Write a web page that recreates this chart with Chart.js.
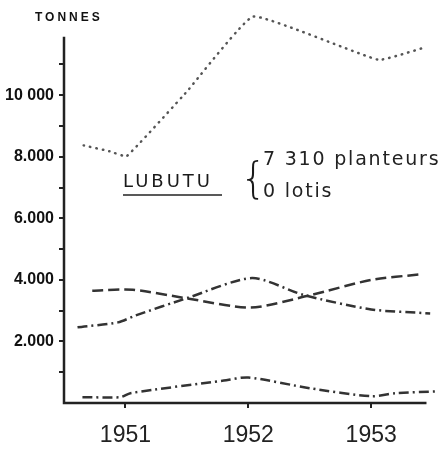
<!DOCTYPE html>
<html>
<head>
<meta charset="utf-8">
<script src="https://cdn.jsdelivr.net/npm/chart.js@4.4.1/dist/chart.umd.min.js"></script>
<style>
  body { margin: 0; background: #fff; }
  canvas { display: block; }
</style>
</head>
<body>
<canvas id="chart" width="448" height="451"></canvas>
<script>
// Lubutu production curves (tonnes), years
const yearTicks = [1951, 1952, 1953];
const yearLabels = ['1951', '1952', '1953'];

const tonneTicks = [1000, 2000, 3000, 4000, 5000, 6000, 7000, 8000, 9000, 10000, 11000];
const tonneLabels = ['', '2.000', '', '4.000', '', '6.000', '', '8.000', '', '10 000', ''];

// dotted curve (top)
const dottedYears = [1950.66, 1950.87, 1951.01, 1951.5, 1952.04, 1953.06, 1953.45];
const dottedTonnes = [8370, 8180, 8020, 10120, 12560, 11150, 11570];

// long dashes
const dashedYears = [1950.73, 1951.06, 1951.5, 1952.02, 1952.5, 1953.0, 1953.4];
const dashedTonnes = [3650, 3680, 3400, 3100, 3500, 4000, 4180];

// dash-dot, middle
const dashDotYears = [1950.61, 1950.94, 1951.08, 1951.51, 1952.03, 1952.45, 1953.0, 1953.48];
const dashDotTonnes = [2460, 2620, 2840, 3420, 4060, 3510, 3040, 2910];

// dash-dot, bottom
const lowYears = [1950.65, 1950.96, 1951.04, 1951.8, 1952.0, 1952.5, 1953.0, 1953.2, 1953.55];
const lowTonnes = [190, 190, 320, 730, 830, 480, 220, 320, 380];

function toPoints(xs, ys) {
    return xs.map((x, i) => ({ x: x, y: ys[i] }));
}

const ink = '#222';

// Axes that stop short of the plot edges, plus the hand-written notes
const drawingPlugin = {
    id: 'drawing',
    afterDraw(chart) {
        const ctx = chart.ctx;
        const x = chart.scales.x;
        const y = chart.scales.y;
        const left = chart.chartArea.left;
        const bottom = y.getPixelForValue(0);

        ctx.save();
        ctx.strokeStyle = ink;
        ctx.lineWidth = 2.5;
        ctx.beginPath();
        ctx.moveTo(left, y.getPixelForValue(11900));
        ctx.lineTo(left, bottom);
        ctx.lineTo(x.getPixelForValue(1953.45), bottom);
        ctx.stroke();

        ctx.fillStyle = '#111';
        ctx.textBaseline = 'alphabetic';
        ctx.font = 'bold 12px "Liberation Sans"';
        ctx.letterSpacing = '3px';
        ctx.fillText('TONNES', 35, 21);

        ctx.fillStyle = '#1a1a1a';
        ctx.font = '18px "DejaVu Sans"';
        ctx.letterSpacing = '3px';
        ctx.fillText('LUBUTU', 123, 187);
        ctx.lineWidth = 1.5;
        ctx.beginPath();
        ctx.moveTo(123, 195);
        ctx.lineTo(222, 195);
        ctx.stroke();

        ctx.letterSpacing = '0px';
        ctx.font = '200 42px "DejaVu Sans"';
        ctx.fillText('{', 240, 193);

        ctx.fillStyle = '#222';
        ctx.font = '19px "DejaVu Sans"';
        ctx.letterSpacing = '1.8px';
        ctx.fillText('7 310 planteurs', 263, 165);
        ctx.fillText('0 lotis', 263, 197);
        ctx.restore();
    }
};

const ctx = document.getElementById('chart').getContext('2d');
new Chart(ctx, {
    type: 'line',
    data: {
        datasets: [
            {
                label: 'pointillé',
                data: toPoints(dottedYears, dottedTonnes),
                borderColor: '#555',
                borderWidth: 2.5,
                borderDash: [0.5, 6],
                borderCapStyle: 'round',
                tension: 0.1
            },
            {
                label: 'tirets',
                data: toPoints(dashedYears, dashedTonnes),
                borderColor: '#333',
                borderWidth: 2.5,
                borderDash: [11, 5]
            },
            {
                label: 'trait-point',
                data: toPoints(dashDotYears, dashDotTonnes),
                borderColor: '#333',
                borderWidth: 2.5,
                borderDash: [10, 4, 2, 4]
            },
            {
                label: 'trait-point bas',
                data: toPoints(lowYears, lowTonnes),
                borderColor: '#333',
                borderWidth: 2.5,
                borderDash: [10, 4, 2, 4]
            }
        ]
    },
    options: {
        responsive: false,
        animation: false,
        clip: false,
        elements: {
            point: { radius: 0 },
            line: { tension: 0.25, fill: false }
        },
        layout: { padding: { top: 9, right: 8, left: 0, bottom: 0 } },
        plugins: {
            legend: { display: false },
            tooltip: { enabled: false },
            title: { display: false }
        },
        scales: {
            x: {
                type: 'linear',
                min: 1950.5,
                max: 1953.56,
                afterBuildTicks: scale => {
                    scale.ticks = yearTicks.map(v => ({ value: v }));
                },
                afterFit: scale => {
                    scale.height = 48;
                },
                grid: {
                    drawOnChartArea: false,
                    drawTicks: true,
                    tickLength: 5,
                    color: ink,
                    lineWidth: 2
                },
                border: { display: false },
                ticks: {
                    padding: 14,
                    color: '#222',
                    font: { family: 'Liberation Sans', size: 23 },
                    callback: value => yearLabels[yearTicks.indexOf(value)]
                }
            },
            y: {
                min: 0,
                max: 12620,
                afterBuildTicks: scale => {
                    scale.ticks = tonneTicks.map(v => ({ value: v }));
                },
                afterFit: scale => {
                    scale.width = 64;
                },
                grid: {
                    drawOnChartArea: false,
                    drawTicks: true,
                    tickLength: 5,
                    color: ink,
                    lineWidth: 2
                },
                border: { display: false },
                ticks: {
                    padding: 5,
                    color: '#111',
                    font: { family: 'Liberation Sans', size: 16, weight: 'bold' },
                    callback: value => tonneLabels[tonneTicks.indexOf(value)]
                }
            }
        }
    },
    plugins: [drawingPlugin]
});
</script>
</body>
</html>
